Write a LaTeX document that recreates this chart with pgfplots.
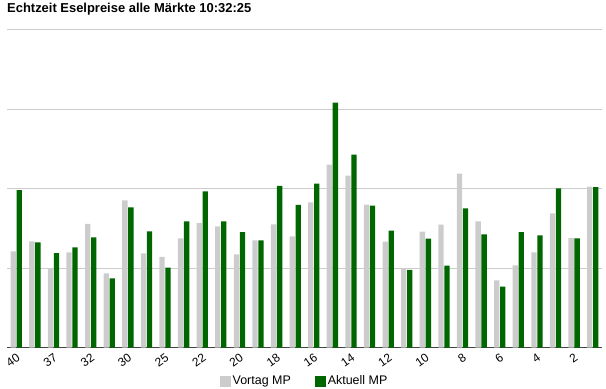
\documentclass[border=0pt]{standalone}
\usepackage{pgfplots}
\pgfplotsset{compat=1.18}
\usepackage{pgfplotstable}
\usepackage{fontspec}
\setmainfont{Liberation Sans}
\definecolor{vortag}{HTML}{CCCCCC}
\definecolor{aktuell}{HTML}{006600}
\definecolor{gridc}{HTML}{CCCCCC}
\definecolor{basec}{HTML}{444444}

\pgfplotstableread{
x vortag aktuell
1 121.0 198.0
2 133.6 132.4
3 98.7 118.9
4 119.7 126.1
5 155.5 138.7
6 93.3 87.0
7 185.3 176.5
8 118.5 146.2
9 114.3 100.8
10 137.4 158.8
11 156.7 196.6
12 152.5 158.8
13 117.2 145.4
14 134.9 134.9
15 155.0 203.4
16 139.9 179.4
17 182.6 206.3
18 230.2 308.2
19 216.4 242.8
20 179.9 178.6
21 133.3 147.2
22 99.8 97.7
23 145.9 137.1
24 154.7 103.1
25 218.9 175.2
26 158.8 142.4
27 84.5 76.9
28 103.4 145.4
29 119.7 141.2
30 168.9 200.4
31 138.2 137.4
32 202.5 201.7
}\datatable

\begin{document}
\begin{tikzpicture}
\path[use as bounding box] (0,0) rectangle (606bp,389bp);
\node[anchor=base west, inner sep=0pt, font=\bfseries\fontsize{13}{15}\selectfont] at (7bp,376.3bp) {Echtzeit Eselpreise alle Märkte 10:32:25};
\begin{axis}[
  at={(7bp,41.3bp)}, anchor=south west,
  scale only axis,
  width=595bp, height=318.2bp,
  xmin=0.5, xmax=32.5, ymin=0, ymax=400,
  axis x line*=bottom, axis y line*=left,
  x axis line style={draw=basec, line width=0.8bp, -},
  y axis line style={draw=none},
  xtick={1,3,...,31},
  xticklabels={40,37,32,30,25,22,20,18,16,14,12,10,8,6,4,2},
  x tick label style={rotate=35, anchor=north east, inner sep=0pt, xshift=-3bp, yshift=-4bp, font=\fontsize{12}{14}\selectfont},
  major tick length=0pt,
  ytick={100,200,300,400}, yticklabels={},
  ymajorgrids, major grid style={draw=gridc, line width=0.8bp},
  ybar, bar width=5.3bp,
  legend style={at={(0.5,-0.105)}, anchor=center, draw=none, font=\fontsize{12.5}{14}\selectfont, legend columns=2, /tikz/every even column/.append style={column sep=22bp}},
  legend image code/.code={\fill[#1] (0bp,-5.5bp) rectangle (11bp,5.5bp);},
]
\addplot[fill=vortag, draw=none, bar shift=-3bp] table[x=x, y=vortag] {\datatable};
\addlegendentry{Vortag MP}
\addplot[fill=aktuell, draw=none, bar shift=3bp] table[x=x, y=aktuell] {\datatable};
\addlegendentry{Aktuell MP}
\end{axis}
\end{tikzpicture}
\end{document}
